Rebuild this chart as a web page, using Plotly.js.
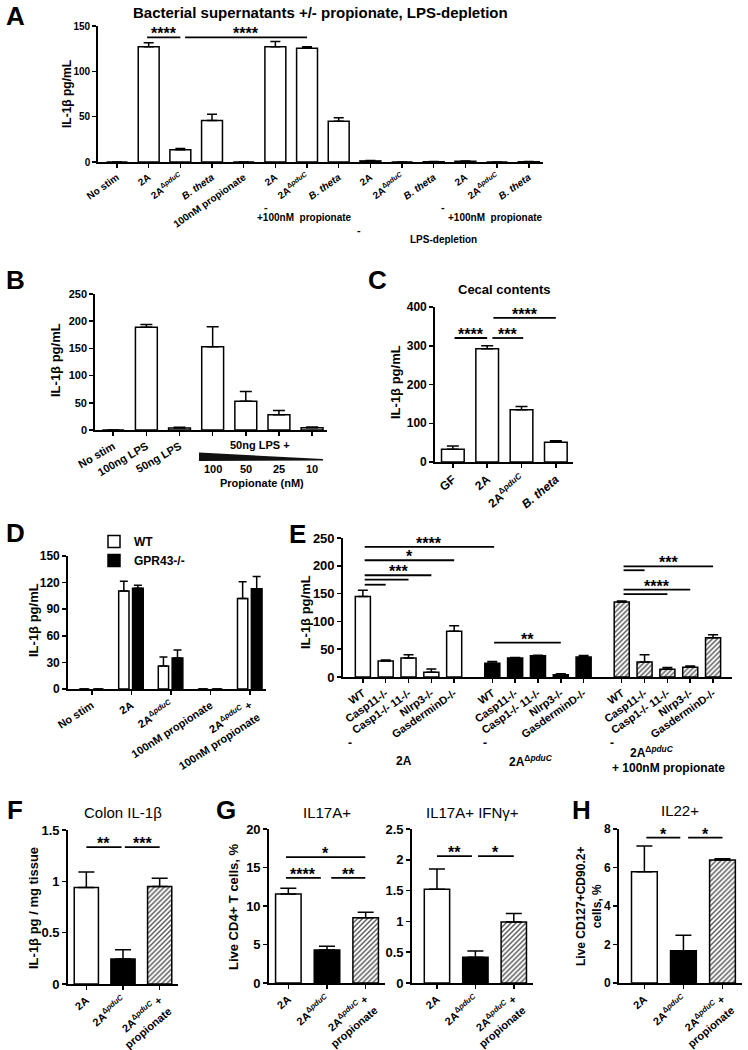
<!DOCTYPE html>
<html><head><meta charset="utf-8">
<script src="https://cdn.plot.ly/plotly-3.0.1.min.js"></script>
<style>html,body{margin:0;padding:0;background:#fff}</style>
</head><body><div id="chart" style="width:748px;height:1050px"></div>
<script>
const FONT = 'Liberation Sans, Arial, Helvetica, sans-serif';
const DP = '2A<sup>Δ<i>pduC</i></sup>';
const BT = '<i>B. theta</i>';

// ---------- Panel A ----------
const aLabels = ['No stim','2A',DP,BT,'100nM propionate','2A',DP,BT,'2A',DP,BT,'2A',DP,BT];
const aValues = [0,127,13.5,45.8,0,127.2,125.4,45,1.2,0,0.3,0.8,0,0.3];
const aErrors = [0,4.6,1.3,7,0,5.8,1.8,3.8,0.5,0,0.2,0.4,0,0.2];
const aSig = [[0.95,2,137.5,'****'],[2.15,6,137.5,'****']];

// ---------- Panel B ----------
const bLabels = ['No stim','100ng LPS','50ng LPS'];
const bValues = [0,189,3.5,153,53,28,4];
const bErrors = [0,5,1.5,37,18,8,1.5];
const bPropionate = ['100','50','25','10'];

// ---------- Panel C ----------
const cLabels = ['GF','2A',DP,BT];
const cValues = [33,292,135,51];
const cErrors = [8,8,8,4];
const cSig = [[0.05,1,320,'****'],[1.15,2.05,320,'***'],[1.18,3,372,'****']];

// ---------- Panel D ----------
const dLabels = ['No stim','2A',DP,'100nM propionate',DP+' +<br>100nM propionate'];
const dSeries = ['WT','GPR43-/-'];
const dWT = [0,110.5,26,0,102];
const dWTErr = [0,11,10,0,19];
const dKO = [0,113.5,35,0,113];
const dKOErr = [0,3.5,9,0,14];

// ---------- Panel E ----------
const eGenotypes = ['WT','Casp11-/-','Casp1-/- 11-/-','Nlrp3-/-','GasderminD-/-'];
const e2A = [144.6,29,34,8.4,82.5];
const e2AErr = [11.5,1.7,6,6,9.5];
const eDelta = [24.7,34.3,38,4.2,36];
const eDeltaErr = [3,0.7,1,1.8,2.5];
const eProp = [135,27,13.9,17.5,70.5];
const ePropErr = [1.7,13,3,2.5,5.5];
const eSig = [[0,5,234,'****'],[0,4,210,'*'],[0,3,183,'***'],[0,2,175,''],[0,1,166,''],
              [5,8,62,'**'],[10,14,199,'***'],[10,11,192,''],[10,13,157,'****'],[10,12,149,'']];

// ---------- Panels F, G, H ----------
const fghLabels = ['2A',DP,DP+' +<br>propionate'];
const fValues = [0.94,0.243,0.95];
const fErrors = [0.15,0.091,0.08];
const fSig = [[0,0.96,1.334,'**'],[1.05,2,1.334,'***']];
const g1Values = [11.57,4.3,8.48];
const g1Errors = [0.73,0.48,0.72];
const g1Sig = [[-0.06,1.99,16.35,'*'],[-0.06,0.84,13.65,'****'],[1.11,1.99,13.65,'**']];
const g2Values = [1.52,0.42,0.99];
const g2Errors = [0.33,0.10,0.14];
const g2Sig = [[0,0.91,2.06,'**'],[1.07,2,2.06,'*']];
const hValues = [5.78,1.68,6.39];
const hErrors = [1.34,0.8,0.07];
const hSig = [[0.05,0.92,7.55,'*'],[1.12,2,7.55,'*']];

// ---------- layout helpers ----------
const W = 748, H = 1050;
const px = v => v / W, py = v => 1 - v / H;
const idx = arr => arr.map((_, i) => i);
const zeros = arr => arr.map(() => 0);

const traces = [];
const shapes = [];
const annotations = [];
const layout = {
  width: W, height: H, margin: {l:0, r:0, t:0, b:0},
  paper_bgcolor: '#fff', plot_bgcolor: 'rgba(0,0,0,0)',
  barmode: 'overlay', showlegend: true, hovermode: false,
  font: {family: FONT, color: '#000'},
  legend: {x: px(94), y: py(527), xanchor: 'left', yanchor: 'top',
           font: {family: FONT, size: 12, weight: 'bold', color: '#000'},
           bgcolor: 'rgba(0,0,0,0)', tracegroupgap: 0}
};

function addAxes(n, xpx, ypx, xr, yr, dt, tickvals, ticktext, o) {
  const xs = n === 1 ? '' : String(n);
  layout['xaxis' + xs] = {
    domain: [px(xpx[0]), px(xpx[1])], range: xr, anchor: 'y' + xs,
    showline: true, linecolor: '#000', linewidth: 1.8, mirror: false,
    ticks: 'outside', ticklen: 4, tickwidth: 1.5, tickcolor: '#000',
    showgrid: false, zeroline: false, fixedrange: true,
    tickmode: 'array', tickvals: tickvals, ticktext: ticktext, tickangle: o.angle,
    tickfont: {family: FONT, size: o.xfs, weight: 'bold', color: '#000'}
  };
  if (o.minor) layout['xaxis' + xs].minor = o.minor;
  layout['yaxis' + xs] = {
    domain: [py(ypx[1]), py(ypx[0])], range: yr, anchor: 'x' + xs,
    showline: true, linecolor: '#000', linewidth: 1.8,
    ticks: 'outside', ticklen: 4, tickwidth: 1.5, tickcolor: '#000',
    showgrid: false, zeroline: false, fixedrange: true,
    tickmode: 'linear', tick0: 0, dtick: dt,
    tickfont: {family: FONT, size: o.yfs, weight: 'bold', color: '#000'}
  };
  return xs;
}

const hatch = {shape: '/', fgcolor: '#555', bgcolor: '#fff', size: 3.5, solidity: 0.4};

function bars(xs, x, y, err, fill, cap, extra) {
  const marker = {color: fill, line: {color: '#000', width: 1.5}};
  const t = Object.assign({
    type: 'bar', x: x, y: y, xaxis: 'x' + xs, yaxis: 'y' + xs, width: 0.66,
    showlegend: false, marker: marker,
    error_y: {type: 'data', symmetric: false, array: err, arrayminus: zeros(err),
              color: '#000', thickness: 1.5, width: cap}
  }, extra || {});
  traces.push(t);
  return t;
}
// F/G/H: one bar per treatment (white, black, hatched)
const fghStyles = ['white', 'black', 'hatch'];
function fghBars(xs, values, errors, cap) {
  values.forEach((v, i) => {
    const st = fghStyles[i];
    const extra = st === 'hatch'
      ? {marker: {color: '#fff', line: {color: '#000', width: 1.5}, pattern: hatch}} : {};
    bars(xs, [i], [v], [errors[i]], st === 'black' ? '#000' : '#fff', cap, extra);
  });
}

function sig(xs, list, xmap) {
  list.forEach(s => {
    const x0 = xmap ? xmap(s[0]) : s[0];
    const x1 = xmap ? xmap(s[1]) : s[1];
    shapes.push({type: 'line', xref: 'x' + xs, yref: 'y' + xs, x0: x0, x1: x1, y0: s[2], y1: s[2],
                 line: {color: '#000', width: 1.8}});
    if (s[3]) annotations.push({xref: 'x' + xs, yref: 'y' + xs, x: (x0 + x1) / 2, y: s[2],
      text: s[3], showarrow: false, yanchor: 'bottom', yshift: -7,
      font: {family: FONT, size: 16, weight: 'bold', color: '#000'}});
  });
}
function txt(x, y, text, size, o) {
  annotations.push(Object.assign({xref: 'paper', yref: 'paper', x: px(x), y: py(y), text: text,
    showarrow: false, xanchor: 'center', yanchor: 'middle',
    font: {family: FONT, size: size, weight: 'bold', color: '#000'}}, o || {}));
}
function ytitle(x, y, text, size) { txt(x, y, text, size || 12, {textangle: -90}); }

// ---------- A ----------
let ax = addAxes(1, [98,543], [26,162], [-0.6,13.45], [0,150], 50, idx(aLabels), aLabels, {angle:-35, xfs:10, yfs:10});
bars(ax, idx(aValues), aValues, aErrors, '#fff', 5);
sig(ax, aSig);
txt(15, 16, 'A', 26);
txt(320, 12, 'Bacterial supernatants +/- propionate, LPS-depletion', 14,
    {font: {family: 'Liberation Sans Narrow, Liberation Sans, Arial', size: 15, weight: 'bold', color: '#000'}});
ytitle(67, 94, 'IL-1β pg/mL', 12);
txt(266, 207, '-', 11); txt(304, 217, '+100nM  propionate', 10); txt(359, 230, '-', 11);
txt(443, 207, '-', 11); txt(495, 217, '+100nM  propionate', 10); txt(443, 239, 'LPS-depletion', 10);

// ---------- B ----------
ax = addAxes(2, [95,327], [294,430], [-0.55,6.45], [0,250], 50, idx(bLabels), bLabels,
  {angle:-30, xfs:11, yfs:11,
   minor: {tickmode: 'linear', tick0: 0, dtick: 1, ticks: 'outside', ticklen: 4, tickwidth: 1.5, tickcolor: '#000', showgrid: false}});
bars(ax, idx(bValues), bValues, bErrors, '#fff', 6);
txt(15, 280, 'B', 26);
ytitle(55, 360, 'IL-1β pg/mL', 13);
txt(260, 445, '50ng LPS +', 11);
bPropionate.forEach((p, i) => annotations.push({xref: 'x2', yref: 'paper', x: 3 + i, y: py(469), text: p,
  showarrow: false, font: {family: FONT, size: 11, weight: 'bold', color: '#000'}}));
txt(262, 483, 'Propionate (nM)', 11);
shapes.push({type: 'path', xref: 'paper', yref: 'paper',
  path: `M${px(199)},${py(452.5)} L${px(323)},${py(459)} L${px(323)},${py(460.5)} L${px(199)},${py(461)} Z`,
  fillcolor: '#111', line: {width: 0}});

// ---------- C ----------
ax = addAxes(3, [435,573], [307,462], [-0.52,3.5], [0,400], 100, idx(cLabels), cLabels, {angle:-40, xfs:12, yfs:12});
bars(ax, idx(cValues), cValues, cErrors, '#fff', 6);
sig(ax, cSig);
txt(377, 280, 'C', 26);
txt(504, 289, 'Cecal contents', 13);
ytitle(395, 382, 'IL-1β pg/mL', 13);

// ---------- D ----------
ax = addAxes(4, [68,266], [556,689], [-0.6,4.4], [0,150], 30, idx(dLabels), dLabels, {angle:-33, xfs:11, yfs:12});
bars(ax, idx(dWT), dWT, dWTErr, '#fff', 4, {name: dSeries[0], showlegend: true, width: 0.26, offset: -0.32});
bars(ax, idx(dKO), dKO, dKOErr, '#000', 4, {name: dSeries[1], showlegend: true, width: 0.27, offset: 0.03});
txt(15, 533, 'D', 26);
ytitle(33, 620, 'IL-1β pg/mL', 13);

// ---------- E ----------
const eGap = 0.67;
const ePos = [];
[0,1,2].forEach(g => eGenotypes.forEach((_, i) => ePos.push(g * (eGenotypes.length + eGap) + i)));
const eTicks = [].concat(eGenotypes, eGenotypes, eGenotypes);
ax = addAxes(5, [343,732], [538,677], [-0.87,16.17], [0,250], 50, ePos, eTicks, {angle:-35, xfs:11, yfs:13});
bars(ax, ePos.slice(0,5), e2A, e2AErr, '#fff', 5);
bars(ax, ePos.slice(5,10), eDelta, eDeltaErr, '#000', 5);
bars(ax, ePos.slice(10,15), eProp, ePropErr, '#fff', 5, {marker: {color: '#fff', line: {color: '#000', width: 1.5}, pattern: hatch}});
sig(ax, eSig, i => ePos[i] + (i % 5 === 0 ? 0.08 : 0));
txt(297, 534, 'E', 26);
ytitle(305, 612, 'IL-1β pg/mL', 13);
txt(350, 743, '-', 12); txt(485, 743, '-', 12); txt(612, 743, '-', 12);
txt(404, 761, '2A', 12); txt(531, 761, DP, 12);
txt(652, 752, DP, 12); txt(668, 768, '+ 100nM propionate', 12);

// ---------- F ----------
ax = addAxes(6, [68,178], [830,984], [-0.5,2.5], [0,1.5], 0.5, idx(fghLabels), fghLabels, {angle:-40, xfs:11, yfs:13});
fghBars(ax, fValues, fErrors, 8);
sig(ax, fSig);
txt(15, 810, 'F', 26);
txt(123, 812, 'Colon IL-1β', 15, {font: {family: FONT, size: 15, color: '#000'}});
ytitle(33, 908, 'IL-1β pg / mg tissue', 13);

// ---------- G ----------
ax = addAxes(7, [269,385], [829,983], [-0.5,2.5], [0,20], 5, idx(fghLabels), fghLabels, {angle:-40, xfs:11, yfs:13});
fghBars(ax, g1Values, g1Errors, 8);
sig(ax, g1Sig);
ax = addAxes(8, [412,533], [829,983], [-0.65,2.5], [0,2.5], 0.5, idx(fghLabels), fghLabels, {angle:-40, xfs:11, yfs:13});
fghBars(ax, g2Values, g2Errors, 8);
sig(ax, g2Sig);
txt(226, 810, 'G', 26);
txt(327, 812, 'IL17A+', 15, {font: {family: FONT, size: 15, color: '#000'}});
txt(472, 812, 'IL17A+ IFNγ+', 15, {font: {family: FONT, size: 15, color: '#000'}});
ytitle(233, 907, 'Live CD4+ T cells, %', 13);

// ---------- H ----------
ax = addAxes(9, [619,742], [829,983], [-0.65,2.5], [0,8], 2, idx(fghLabels), fghLabels, {angle:-40, xfs:11, yfs:12});
fghBars(ax, hValues, hErrors, 8);
sig(ax, hSig);
txt(581, 810, 'H', 26);
txt(680, 810, 'IL22+', 15, {font: {family: FONT, size: 15, color: '#000'}});
ytitle(589, 907, 'Live CD127+CD90.2+<br>cells, %', 12);

layout.shapes = shapes;
layout.annotations = annotations;
Plotly.newPlot('chart', traces, layout, {staticPlot: true, displayModeBar: false});
</script></body></html>
